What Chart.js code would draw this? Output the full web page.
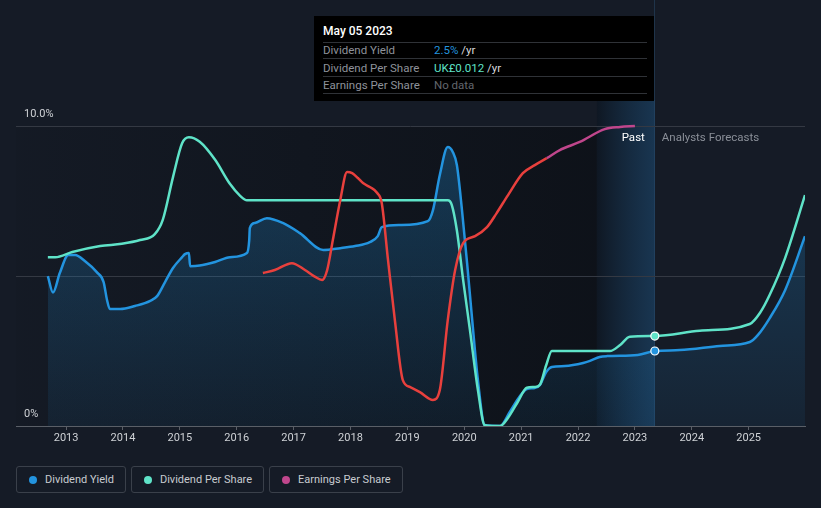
<!DOCTYPE html>
<html>
<head>
<meta charset="utf-8">
<script src="https://cdn.jsdelivr.net/npm/chart.js@4.4.0/dist/chart.umd.min.js"></script>
<style>
  html, body { margin:0; padding:0; background:#151b26; width:821px; height:508px; overflow:hidden; font-family: Roboto, "Noto Sans", sans-serif; }
  #wrap { position:absolute; left:0; top:0; width:821px; height:456px; }
  #tip { position:absolute; left:314px; top:16px; width:340px; height:85px; background:#000; font-size:11.5px; }
  #tip .t { position:absolute; left:9px; height:14px; line-height:14px; white-space:nowrap; }
  #tip .v { position:absolute; left:120px; height:14px; line-height:14px; white-space:nowrap; color:#d8dadd; }
  #tip .sep { position:absolute; left:9px; width:324px; height:1px; background:#2f3237; }
  #legend { position:absolute; left:16px; top:466px; display:flex; gap:5px; }
  .lg { box-sizing:border-box; height:27px; border:1px solid #3a404a; border-radius:3px; display:flex; align-items:center; padding:0 11px 0 12px; color:#c8cbd0; font-size:11px; }
  .lg i { display:inline-block; width:8px; height:8px; border-radius:50%; margin-right:8px; }
</style>
</head>
<body>
<div id="wrap"><canvas id="c" width="821" height="456"></canvas></div>

<div id="tip">
  <div class="t" style="top:8px;color:#fff;font-weight:500;font-size:12px;">May 05 2023</div>
  <div class="sep" style="top:26px"></div>
  <div class="t" style="top:26px;color:#8e929a;line-height:16px;height:16px;">Dividend Yield</div>
  <div class="v" style="top:27px;"><span style="color:#2394df">2.5%</span> /yr</div>
  <div class="sep" style="top:42px"></div>
  <div class="t" style="top:44px;color:#8e929a;line-height:16px;height:16px;">Dividend Per Share</div>
  <div class="v" style="top:45px;"><span style="color:#5fe3c8">UK£0.012</span> /yr</div>
  <div class="sep" style="top:60px"></div>
  <div class="t" style="top:61px;color:#8e929a;line-height:16px;height:16px;">Earnings Per Share</div>
  <div class="v" style="top:62px;color:#62666d;">No data</div>
  <div class="sep" style="top:77px"></div>
</div>

<div id="legend">
  <div class="lg"><i style="background:#2394df"></i>Dividend Yield</div>
  <div class="lg"><i style="background:#5fe3c8"></i>Dividend Per Share</div>
  <div class="lg"><i style="background:#c0468c"></i>Earnings Per Share</div>
</div>

<script>
// ---- Data (x = decimal year) ----
const yieldYears = [2012.68,2012.77,2012.89,2013.04,2013.16,2013.33,2013.54,2013.66,2013.72,2013.77,2013.95,2014.21,2014.48,2014.60,2014.74,2014.88,2015.04,2015.09,2015.16,2015.18,2015.35,2015.62,2015.88,2016.18,2016.22,2016.23,2016.32,2016.53,2016.81,2017.11,2017.52,2017.82,2018.08,2018.34,2018.48,2018.55,2018.87,2019.36,2019.45,2019.57,2019.71,2019.80,2019.87,2019.96,2020.05,2020.14,2020.24,2020.36,2020.63,2020.80,2020.98,2021.10,2021.24,2021.33,2021.44,2021.54,2021.77,2022.09,2022.21,2022.38,2022.51,2023.05,2023.35,2023.79,2024.49,2025.02,2025.16,2025.37,2025.64,2025.99];
const yieldPct = [5.00,4.45,5.10,5.70,5.70,5.50,5.13,4.80,4.20,3.90,3.90,4.00,4.17,4.33,4.80,5.27,5.63,5.73,5.77,5.33,5.35,5.47,5.63,5.77,6.20,6.60,6.77,6.93,6.77,6.43,5.87,5.93,6.00,6.13,6.33,6.63,6.70,6.83,7.20,8.37,9.30,9.13,8.70,7.20,5.43,3.53,1.53,0.03,0.00,0.47,1.00,1.23,1.27,1.37,1.80,1.97,2.00,2.10,2.17,2.30,2.33,2.37,2.50,2.53,2.67,2.80,3.03,3.60,4.53,6.33];

const dpsYears = [2012.68,2012.81,2013.11,2013.60,2013.98,2014.30,2014.56,2014.70,2014.88,2015.04,2015.16,2015.35,2015.62,2015.88,2016.06,2016.18,2017.00,2018.00,2019.00,2019.71,2019.78,2019.87,2019.98,2020.10,2020.24,2020.36,2020.49,2020.63,2020.77,2020.94,2021.10,2021.24,2021.33,2021.44,2021.54,2022.03,2022.56,2022.74,2022.91,2023.35,2024.14,2025.02,2025.20,2025.37,2025.64,2025.99];
const dpsGBP = [0.0225,0.0225,0.0232,0.0240,0.0243,0.0248,0.0256,0.0275,0.0332,0.0377,0.0385,0.0379,0.0355,0.0323,0.0307,0.0301,0.0301,0.0301,0.0301,0.0301,0.0295,0.0261,0.0195,0.0128,0.0048,0.0001,0.0000,0.0000,0.0011,0.0032,0.0051,0.0052,0.0055,0.0081,0.0100,0.0100,0.0100,0.0108,0.0119,0.0120,0.0127,0.0136,0.0151,0.0175,0.0224,0.0308];

const epsYears = [2016.46,2016.67,2016.97,2017.20,2017.38,2017.50,2017.59,2017.69,2017.82,2017.94,2018.03,2018.13,2018.22,2018.34,2018.47,2018.55,2018.66,2018.78,2018.92,2019.05,2019.22,2019.45,2019.57,2019.71,2019.84,2019.98,2020.19,2020.40,2020.57,2020.77,2021.03,2021.24,2021.45,2021.68,2022.03,2022.47,2022.74,2023.00];
const epsIdx = [5.10,5.20,5.43,5.20,4.97,4.87,5.20,6.20,7.53,8.47,8.43,8.27,8.10,7.97,7.77,7.43,5.53,3.53,1.53,1.30,1.13,0.87,1.20,3.53,5.20,6.10,6.33,6.63,7.10,7.70,8.43,8.70,8.93,9.20,9.47,9.90,9.97,10.00];

const xTickYears = [2013,2014,2015,2016,2017,2018,2019,2020,2021,2022,2023,2024,2025];
const yTickLabels = {0: '0%', 10: '10.0%'};
const xMin = 2012.12, xMax = 2025.99;
const yMax = 10.87;
const dpsMax = 0.04348;
const pastStart = 2022.33, todayYear = 2023.35, epsPinkFrom = 2021.45;

const BLUE = '#2394df', TEAL = '#5fe3c8', RED = '#e8403d', PINK = '#c0468c';

const zip = (xs, ys) => xs.map((x, i) => ({x, y: ys[i]}));
const markToday = c => (c.raw && c.raw.x === todayYear) ? 4 : 0;

const bgPlugin = {
  id: 'bg',
  beforeDraw(chart) {
    const {ctx, chartArea: a, scales: {x, y}} = chart;
    ctx.save();
    ctx.fillStyle = '#151b26';
    ctx.fillRect(0, 0, chart.width, chart.height);
    const xp = x.getPixelForValue(pastStart), xt = x.getPixelForValue(todayYear);
    const y10 = y.getPixelForValue(10);
    let g = ctx.createLinearGradient(a.left, 0, xp, 0);
    g.addColorStop(0, 'rgba(5,7,10,0.05)');
    g.addColorStop(1, 'rgba(5,7,10,0.45)');
    ctx.fillStyle = g;
    ctx.fillRect(a.left, y10, xp - a.left, a.bottom - y10);
    g = ctx.createLinearGradient(xp, 0, xt, 0);
    g.addColorStop(0, 'rgba(10,20,32,0.55)');
    g.addColorStop(1, 'rgba(30,90,140,0.42)');
    ctx.fillStyle = g;
    ctx.fillRect(xp, a.top, xt - xp, a.bottom - a.top);
    ctx.fillStyle = 'rgba(45,85,120,0.45)';
    ctx.fillRect(Math.round(xt) - 1, 0, 1, a.bottom);
    ctx.restore();
  },
  afterDraw(chart) {
    const {ctx, scales: {x, y}} = chart;
    const xt = x.getPixelForValue(todayYear);
    const yy = y.getPixelForValue(10) + 12;
    ctx.save();
    ctx.font = '11.5px Roboto';
    ctx.textBaseline = 'middle';
    ctx.textAlign = 'right';
    ctx.fillStyle = '#ffffff';
    ctx.fillText('Past', xt - 10, yy);
    ctx.textAlign = 'left';
    ctx.fillStyle = '#8a8f98';
    ctx.fillText('Analysts Forecasts', xt + 7, yy);
    ctx.restore();
  }
};

new Chart(document.getElementById('c'), {
  type: 'line',
  data: {
    datasets: [
      {
        label: 'Earnings Per Share',
        data: zip(epsYears, epsIdx),
        yAxisID: 'yEps',
        borderColor: RED,
        borderWidth: 2.5,
        pointRadius: 0,
        fill: false,
        cubicInterpolationMode: 'monotone',
        segment: { borderColor: c => c.p0.parsed.x >= epsPinkFrom ? PINK : RED }
      },
      {
        label: 'Dividend Per Share',
        data: zip(dpsYears, dpsGBP),
        yAxisID: 'yDps',
        borderColor: TEAL,
        borderWidth: 2.5,
        pointRadius: markToday,
        pointBackgroundColor: TEAL,
        pointBorderColor: '#ffffff',
        pointBorderWidth: 1.2,
        fill: false,
        cubicInterpolationMode: 'monotone'
      },
      {
        label: 'Dividend Yield',
        data: zip(yieldYears, yieldPct),
        yAxisID: 'y',
        borderColor: BLUE,
        borderWidth: 2.5,
        pointRadius: markToday,
        pointBackgroundColor: BLUE,
        pointBorderColor: '#ffffff',
        pointBorderWidth: 1.2,
        cubicInterpolationMode: 'monotone',
        fill: 'origin',
        backgroundColor: (c) => {
          const a = c.chart.chartArea;
          if (!a) return 'rgba(35,148,223,0.2)';
          const g = c.chart.ctx.createLinearGradient(0, a.top, 0, a.bottom);
          g.addColorStop(0, 'rgba(35,148,223,0.32)');
          g.addColorStop(1, 'rgba(35,148,223,0.07)');
          return g;
        }
      }
    ]
  },
  options: {
    responsive: false,
    animation: false,
    events: [],
    layout: { padding: { left: 16, right: 16, top: 100, bottom: 0 } },
    plugins: { legend: { display: false }, tooltip: { enabled: false } },
    scales: {
      x: {
        type: 'linear',
        min: xMin, max: xMax,
        afterFit: s => { s.height = 30; },
        afterBuildTicks: s => { s.ticks = xTickYears.map(v => ({value: v})); },
        ticks: { autoSkip: false, maxRotation: 0, padding: 2, color: '#cfd2d6', font: { size: 11, family: 'Roboto' }, callback: v => String(v) },
        grid: { drawOnChartArea: false, drawTicks: true, tickLength: 4, color: '#5a5f67' },
        border: { display: true, color: '#5a5f67', width: 1 }
      },
      y: {
        type: 'linear',
        min: 0, max: yMax,
        afterFit: s => { s.width = 0; },
        afterBuildTicks: s => { s.ticks = [0, 5, 10].map(v => ({value: v})); },
        ticks: { mirror: true, padding: 8, labelOffset: -12, color: '#cfd2d6', font: { size: 11, family: 'Roboto' },
                 callback: v => yTickLabels[v] !== undefined ? yTickLabels[v] : '' },
        grid: { drawTicks: false, color: c => c.tick && c.tick.value === 0 ? 'rgba(0,0,0,0)' : '#343943' },
        border: { display: false }
      },
      yDps: { type: 'linear', min: 0, max: dpsMax, display: false },
      yEps: { type: 'linear', min: 0, max: yMax, display: false }
    }
  },
  plugins: [bgPlugin]
});
</script>
</body>
</html>
